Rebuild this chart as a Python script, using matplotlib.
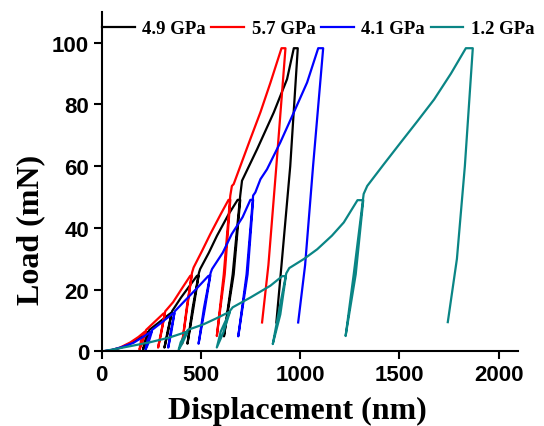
import numpy as np
import matplotlib
matplotlib.use("Agg")
from matplotlib import pyplot as plt

# Multi-cycle indentation curves: load to 6.25/12.5/25/50/100 mN,
# hold, unload to 10 % of peak, reload.  Displacement in nm, load in mN.
labels = ["4.9 GPa", "5.7 GPa", "4.1 GPa", "1.2 GPa"]
colors = ["black", "red", "blue", "#0a8585"]

disp_49 = [0, 50, 100, 150, 200, 232, 238,
           220, 208, 218, 240, 290, 345, 352,
           333, 316, 332, 354, 400, 440, 480, 488,
           462, 432, 458, 490, 496, 540, 581, 640, 685, 698,
           665, 616, 660, 698, 707, 783, 867, 934, 968, 988,
           950, 906, 880]
load_49 = [0, 0.4, 1.3, 2.8, 4.8, 6.3, 6.3,
           2.5, 0.6, 3.5, 7.0, 9.5, 12.3, 12.3,
           6.0, 1.25, 6.5, 13.0, 17.5, 21.0, 24.5, 24.5,
           14.0, 2.5, 14.0, 25.5, 26.7, 32.0, 37.5, 44.5, 49.1, 49.1,
           25.0, 4.9, 25.0, 50.5, 55.3, 65.5, 77.4, 88.2, 98.2, 98.2,
           60.0, 28.0, 9.4]

disp_57 = [0, 40, 90, 143, 185, 215, 221,
           203, 190, 198, 224, 260, 311, 318,
           300, 284, 300, 320, 360, 400, 446, 453,
           430, 405, 428, 455, 463, 505, 547, 600, 639, 648,
           620, 580, 615, 648, 656, 665, 749, 800, 850, 906, 926,
           880, 840, 808]
load_57 = [0, 0.3, 1.2, 2.9, 4.7, 6.3, 6.3,
           2.5, 0.6, 3.5, 7.0, 9.2, 12.3, 12.3,
           6.0, 1.25, 6.5, 13.0, 16.0, 20.0, 24.5, 24.5,
           14.0, 2.5, 14.0, 25.5, 27.2, 32.5, 38.0, 44.5, 49.1, 49.1,
           25.0, 5.0, 25.0, 50.5, 53.6, 54.2, 68.8, 77.5, 87.0, 98.2, 98.2,
           60.0, 28.0, 9.4]

disp_41 = [0, 50, 100, 160, 205, 246, 252,
           234, 221, 230, 254, 300, 358, 366,
           350, 335, 348, 368, 420, 480, 538, 547,
           520, 488, 515, 549, 556, 610, 655, 710, 749, 763,
           735, 688, 730, 763, 774, 800, 833, 900, 968, 1035, 1091, 1116,
           1065, 1025, 990]
load_41 = [0, 0.5, 1.4, 2.8, 4.6, 6.3, 6.3,
           2.5, 0.6, 3.5, 7.0, 9.3, 12.3, 12.3,
           6.0, 1.25, 6.5, 13.0, 16.5, 20.5, 24.5, 24.5,
           14.0, 2.5, 14.0, 25.5, 26.7, 32.0, 38.0, 43.5, 49.1, 49.1,
           25.0, 4.9, 25.0, 50.5, 51.5, 55.8, 59.0, 67.7, 77.4, 87.1, 98.2, 98.2,
           60.0, 28.0, 9.4]

disp_12 = [0, 60, 150, 244, 340, 425, 432,
           405, 388, 398, 434, 513, 580, 636, 645,
           612, 580, 600, 648, 660, 750, 850, 910, 928,
           900, 862, 890, 930, 945, 1020, 1086, 1160, 1220, 1289, 1318,
           1280, 1229, 1270, 1320, 1338, 1420, 1507, 1590, 1675, 1760, 1835, 1870,
           1830, 1790, 1744]
load_12 = [0, 0.7, 1.8, 3.0, 4.5, 6.3, 6.3,
           2.5, 0.6, 3.0, 7.0, 8.8, 10.8, 12.6, 12.6,
           6.0, 1.3, 6.5, 13.3, 14.3, 17.5, 21.3, 24.4, 24.4,
           12.0, 2.4, 12.0, 25.3, 27.0, 30.0, 33.1, 37.5, 41.8, 49.0, 49.0,
           25.0, 5.0, 25.0, 51.0, 53.6, 60.5, 67.7, 74.5, 81.6, 90.0, 98.2, 98.2,
           60.0, 30.0, 9.5]

curves = [(disp_49, load_49), (disp_57, load_57), (disp_41, load_41), (disp_12, load_12)]

serif = "Liberation Serif"
sans = "Liberation Sans"

fig = plt.figure(figsize=(5.44, 4.27), dpi=100)
ax = fig.add_axes([0.187, 0.1745, 0.766, 0.7956])

for (x, y), c, lab in zip(curves, colors, labels):
    ax.plot(x, y, color=c, linewidth=1.6, label=lab, solid_joinstyle="round")

ax.set_xlim(0, 2100)
ax.set_ylim(0, 110)
ax.set_xticks([0, 500, 1000, 1500, 2000])
ax.set_yticks([0, 20, 40, 60, 80, 100])

for side in ["top", "right"]:
    ax.spines[side].set_visible(False)
for side in ["left", "bottom"]:
    ax.spines[side].set_linewidth(1.5)

ax.tick_params(axis="both", which="major", direction="out", length=6, width=1.5, pad=3)
for t in ax.get_xticklabels() + ax.get_yticklabels():
    t.set_fontfamily(sans)
    t.set_fontweight("bold")
    t.set_fontsize(16)

ax.set_xlabel("Displacement (nm)", fontfamily=serif, fontweight="bold", fontsize=23)
ax.set_ylabel("Load (mN)", fontfamily=serif, fontweight="bold", fontsize=23)
ax.xaxis.set_label_coords(0.47, -0.13)
ax.yaxis.set_label_coords(-0.135, 0.36)

leg = ax.legend(loc="upper left", bbox_to_anchor=(0.0, 0.975), ncol=4, frameon=False,
                borderpad=0, borderaxespad=0.0, handlelength=1.75, handletextpad=0.4,
                columnspacing=0.3, prop={"family": serif, "weight": "bold", "size": 13.5})
for h in leg.get_lines():
    h.set_linewidth(1.6)

plt.savefig("out.png", dpi=100)
